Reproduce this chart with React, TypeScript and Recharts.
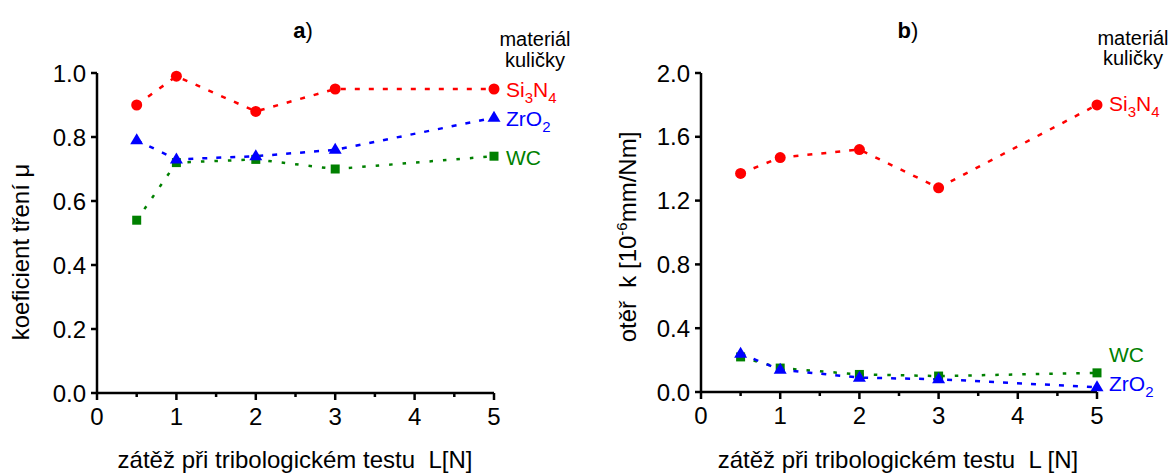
import React from "react";
import { LineChart, Line, XAxis, YAxis } from "recharts";

// loads used in the test [N]
const loads = [0.5, 1, 2, 3, 5];

// a) friction coefficient
const frictionSi3N4 = [0.9, 0.99, 0.88, 0.95, 0.95];
const frictionZrO2 = [0.79, 0.73, 0.74, 0.76, 0.86];
const frictionWC = [0.54, 0.72, 0.73, 0.7, 0.74];

// b) wear rate k [10^-6 mm/Nm]
const wearSi3N4 = [1.37, 1.47, 1.52, 1.28, 1.8];
const wearZrO2 = [0.24, 0.14, 0.09, 0.08, 0.03];
const wearWC = [0.22, 0.15, 0.11, 0.1, 0.12];

const xTicks = [0, 0.5, 1, 1.5, 2, 2.5, 3, 3.5, 4, 4.5, 5];
const frictionTicks = [0, 0.2, 0.4, 0.6, 0.8, 1.0];
const wearTicks = [0, 0.4, 0.8, 1.2, 1.6, 2.0];

const RED = "#ff0000";
const BLUE = "#0000ff";
const GREEN = "#008000";
const FONT = "'Liberation Sans', Arial, sans-serif";

const frictionData = loads.map((l, i) => ({
    load: l,
    si3n4: frictionSi3N4[i],
    zro2: frictionZrO2[i],
    wc: frictionWC[i],
}));

const wearData = loads.map((l, i) => ({
    load: l,
    si3n4: wearSi3N4[i],
    zro2: wearZrO2[i],
    wc: wearWC[i],
}));

const XTick = (props: any) => {
    const { x, y, payload } = props;
    const v = payload.value;
    const major = Number.isInteger(v);
    return (
        <g>
            <line x1={x} y1={y} x2={x} y2={y + (major ? 7 : 4)} stroke="#000" strokeWidth={2.5} />
            {major && (
                <text x={x} y={y + 32} textAnchor="middle" fontSize={24} fill="#000">
                    {v}
                </text>
            )}
        </g>
    );
};

const circleDot = (color: string) => (p: any) => (
    <circle key={`c-${p.index}`} cx={p.cx} cy={p.cy} r={5.5} fill={color} stroke="none" />
);
const squareDot = (color: string) => (p: any) => (
    <rect key={`s-${p.index}`} x={p.cx - 4.5} y={p.cy - 4.5} width={9} height={9} fill={color} stroke="none" />
);
const triangleDot = (color: string) => (p: any) => (
    <polygon
        key={`t-${p.index}`}
        points={`${p.cx},${p.cy - 7} ${p.cx - 6.5},${p.cy + 4} ${p.cx + 6.5},${p.cy + 4}`}
        fill={color}
        stroke="none"
    />
);

// label next to the last point of a series, main text + subscripts
const seriesLabel = (parts: [string, boolean][], color: string, dx: number, dy: number) => (p: any) => {
    if (p.index !== loads.length - 1) return null;
    let sub = false;
    return (
        <text key="lbl" x={p.x + dx} y={p.y + dy} fill={color} fontSize={21}>
            {parts.map(([t, isSub], k) => {
                const shift = isSub === sub ? 0 : isSub ? 6 : -6;
                sub = isSub;
                return (
                    <tspan key={k} dy={shift} fontSize={isSub ? 15 : 21}>
                        {t}
                    </tspan>
                );
            })}
        </text>
    );
};

const axisStyle = { stroke: "#000", strokeWidth: 2.5 };

function Panel({ data, yTicks, yMax, margin, labels }: any) {
    return (
        <LineChart width={588} height={474} data={data} margin={margin}>
            <XAxis
                type="number"
                dataKey="load"
                domain={[0, 5]}
                ticks={xTicks}
                interval={0}
                tick={<XTick />}
                tickLine={false}
                tickSize={0}
                tickMargin={0}
                axisLine={axisStyle}
                height={40}
            />
            <YAxis
                type="number"
                domain={[0, yMax]}
                ticks={yTicks}
                interval={0}
                width={50}
                tickSize={6}
                tickMargin={5}
                tickLine={axisStyle}
                axisLine={axisStyle}
                tickFormatter={(v: number) => v.toFixed(1)}
                tick={{ fill: "#000", fontSize: 24 }}
            />
            <Line
                type="linear"
                dataKey="wc"
                stroke={GREEN}
                strokeWidth={2.5}
                strokeDasharray="3.5 10"
                dot={squareDot(GREEN)}
                activeDot={false}
                label={labels.wc}
                isAnimationActive={false}
            />
            <Line
                type="linear"
                dataKey="zro2"
                stroke={BLUE}
                strokeWidth={2.5}
                strokeDasharray="5 9"
                dot={triangleDot(BLUE)}
                activeDot={false}
                label={labels.zro2}
                isAnimationActive={false}
            />
            <Line
                type="linear"
                dataKey="si3n4"
                stroke={RED}
                strokeWidth={2.5}
                strokeDasharray="5 9"
                dot={circleDot(RED)}
                activeDot={false}
                label={labels.si3n4}
                isAnimationActive={false}
            />
        </LineChart>
    );
}

export default function App() {
    const si = seriesLabel([["Si", false], ["3", true], ["N", false], ["4", true]], RED, 12, 8);
    const zr = (dy: number) => seriesLabel([["ZrO", false], ["2", true]], BLUE, 12, dy);
    const wc = (dy: number) => seriesLabel([["WC", false]], GREEN, 12, dy);

    return (
        <div
            style={{
                position: "absolute",
                left: 0,
                top: 0,
                width: 1176,
                height: 474,
                background: "#fff",
                fontFamily: FONT,
            }}>
            <div style={{ position: "absolute", left: 0, top: 0 }}>
                <Panel
                    data={frictionData}
                    yTicks={frictionTicks}
                    yMax={1}
                    margin={{ top: 73, right: 94, bottom: 41, left: 47 }}
                    labels={{ si3n4: si, zro2: zr(8), wc: wc(9) }}
                />
            </div>
            <div style={{ position: "absolute", left: 588, top: 0 }}>
                <Panel
                    data={wearData}
                    yTicks={wearTicks}
                    yMax={2}
                    margin={{ top: 73, right: 79, bottom: 42, left: 63 }}
                    labels={{
                        si3n4: seriesLabel([["Si", false], ["3", true], ["N", false], ["4", true]], RED, 12, 6),
                        zro2: zr(4),
                        wc: wc(-11),
                    }}
                />
            </div>
            <svg
                width={1176}
                height={474}
                style={{ position: "absolute", left: 0, top: 0, pointerEvents: "none" }}>
                <g fill="#000" fontFamily={FONT}>
                    <text x={303} y={38} textAnchor="middle" fontSize={22}>
                        <tspan fontWeight="bold">a</tspan>)
                    </text>
                    <text x={908} y={38} textAnchor="middle" fontSize={22}>
                        <tspan fontWeight="bold">b</tspan>)
                    </text>

                    <text x={535} y={46} textAnchor="middle" fontSize={20}>materiál</text>
                    <text x={535} y={67} textAnchor="middle" fontSize={20}>kuličky</text>
                    <text x={1133} y={45} textAnchor="middle" fontSize={20}>materiál</text>
                    <text x={1133} y={65} textAnchor="middle" fontSize={20}>kuličky</text>

                    <text x={295} y={468} textAnchor="middle" fontSize={24} style={{ whiteSpace: "pre" }}>
                        {"zátěž při tribologickém testu  L[N]"}
                    </text>
                    <text x={898} y={468} textAnchor="middle" fontSize={24} style={{ whiteSpace: "pre" }}>
                        {"zátěž při tribologickém testu  L [N]"}
                    </text>

                    <text transform="translate(29 252) rotate(-90)" textAnchor="middle" fontSize={24}>
                        koeficient tření μ
                    </text>
                    <text
                        transform="translate(636 237) rotate(-90)"
                        textAnchor="middle"
                        fontSize={24}
                        style={{ whiteSpace: "pre" }}>
                        {"otěř  k [10"}
                        <tspan dy={-9} fontSize={15}>-6</tspan>
                        <tspan dy={9}>{"mm/Nm]"}</tspan>
                    </text>
                </g>
            </svg>
        </div>
    );
}
